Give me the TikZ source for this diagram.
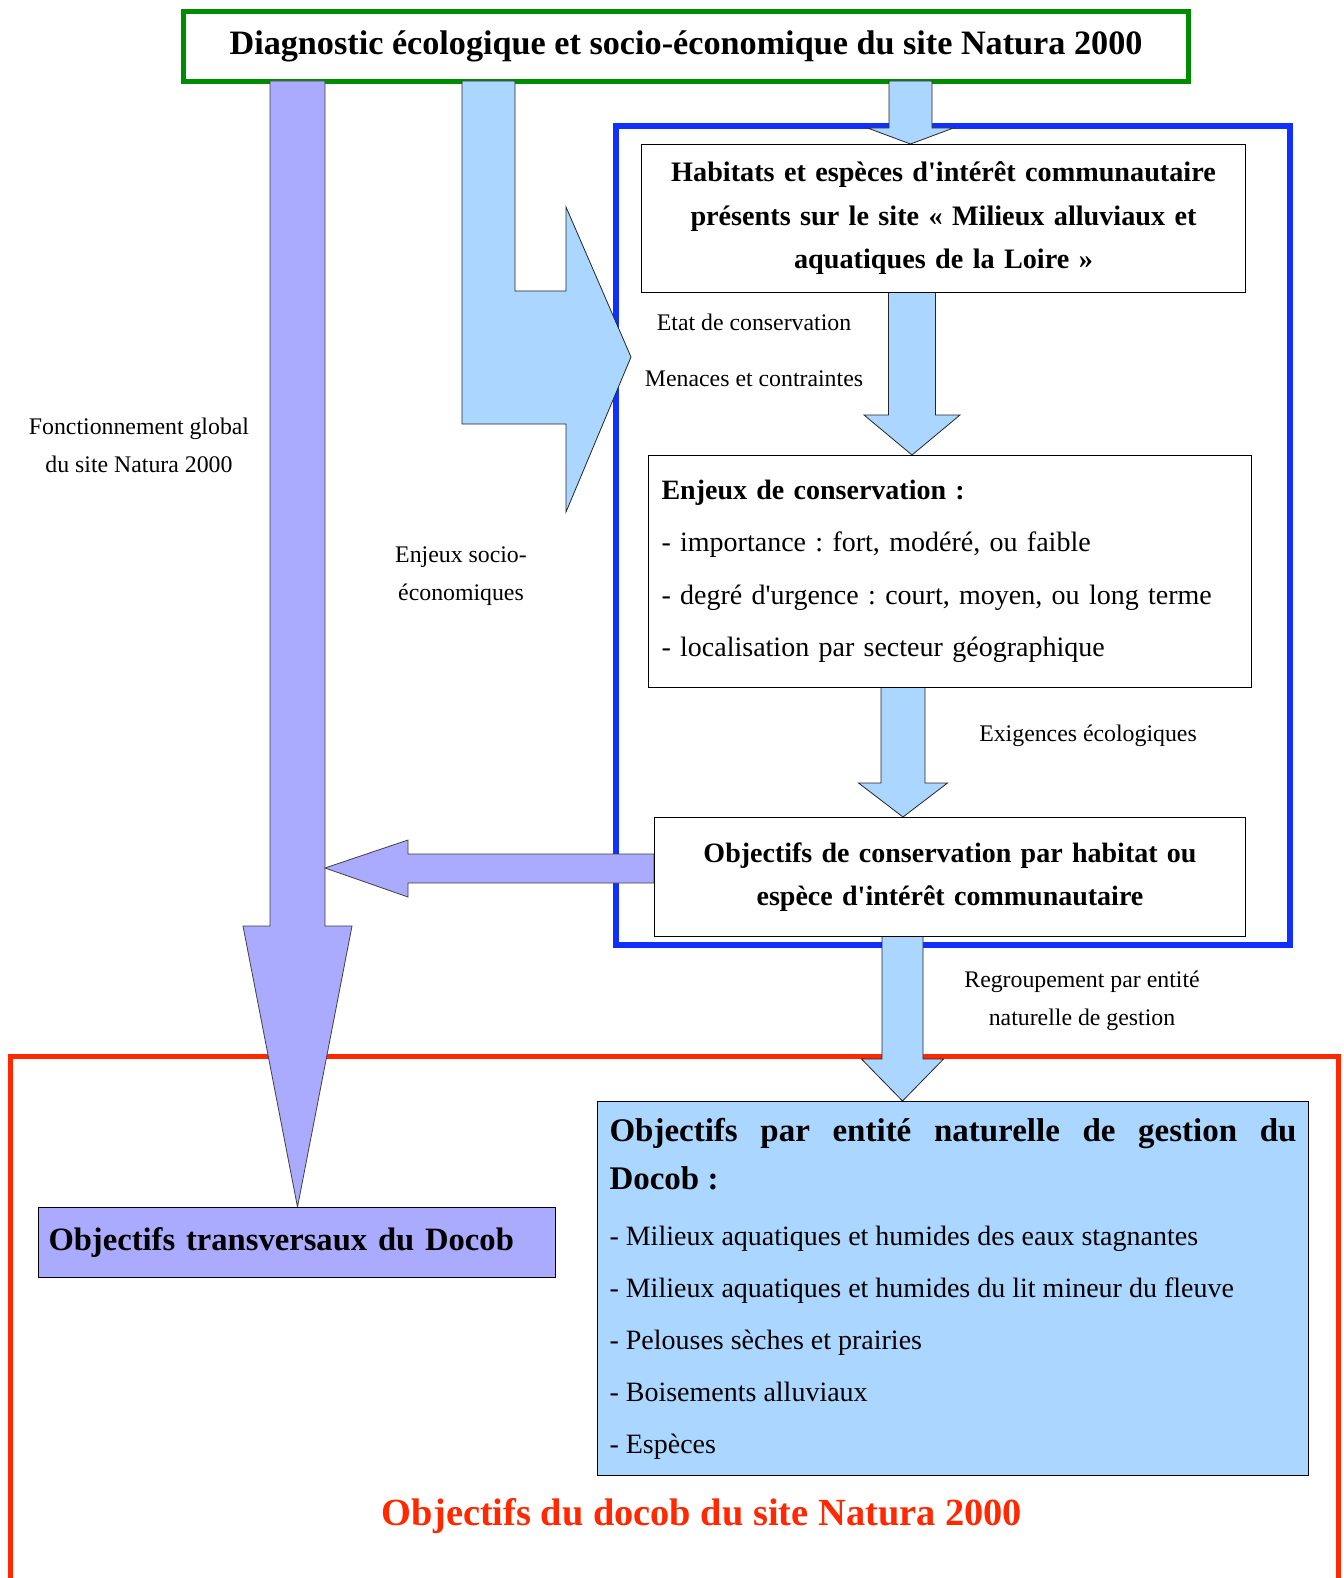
\documentclass[tikz,border=0pt]{standalone}
\usepackage{fontspec}
\setmainfont{Liberation Serif}[Ligatures=TeXOff]
\definecolor{purp}{RGB}{170,170,255}
\definecolor{lblue}{RGB}{170,214,255}
\definecolor{greenc}{RGB}{0,140,0}
\definecolor{bluec}{RGB}{16,48,255}
\definecolor{redc}{RGB}{255,40,0}
\newcommand{\fs}[2]{\fontsize{#1}{#2}\selectfont}
% vertical block arrow: style, xc, ytop, yhead, ytip, half shaft, half head
\newcommand{\vblock}[7]{%
  \path[#1] ({#2-#6},#3) -- ({#2+#6},#3) -- ({#2+#6},#4) -- ({#2+#7},#4) -- (#2,#5) -- ({#2-#7},#4) -- ({#2-#6},#4) -- cycle;}
\frenchspacing
\begin{document}
\begin{tikzpicture}[x=1pt,y=-1pt,
  box/.style={draw=black, line width=1pt, fill=white, inner sep=0pt, anchor=north west},
  lab/.style={align=center, font=\frenchspacing\fs{23.8}{38}},
  purparrow/.style={fill=purp, draw=black!75, line width=0.8pt, line join=miter},
  bluearrow/.style={fill=lblue, draw=black!85, line width=0.8pt, line join=miter}]
\useasboundingbox (0,0) rectangle (1343,1578);
\fill[white] (0,0) rectangle (1343,1578);
% frames
\draw[bluec, line width=6pt] (616,126) rectangle (1290,945);
\draw[redc, line width=5pt] (10,1620) -- (10,1056) -- (1338,1056) -- (1338,1620);
% top box
\node[draw=greenc, line width=5pt, fill=white, inner sep=0pt, anchor=north west,
  minimum width=1005pt, minimum height=70pt, font=\fs{34.2}{38}\bfseries] (diag) at (181,9)
  {Diagnostic écologique et socio-économique du site Natura 2000};
% arrows
\vblock{purparrow}{297.5}{81}{926}{1207}{27.5}{54.5}
\path[bluearrow] (462,81) -- (515,81) -- (515,291) -- (566,291) -- (566,207) -- (631,357)
  -- (566,512) -- (566,424) -- (462,424) -- cycle;
\vblock{bluearrow}{910.5}{81}{128}{144}{21.5}{43}
\vblock{bluearrow}{912}{292}{415}{455}{23.5}{48}
\vblock{bluearrow}{903}{687}{783}{817}{22}{44.5}
\vblock{bluearrow}{902.5}{936}{1059}{1101}{20.5}{41}
\path[purparrow] (654,854) -- (408,854) -- (408,840) -- (325,868) -- (408,897) -- (408,883) -- (654,883) -- cycle;
% boxes
\node[box, minimum width=604pt, minimum height=148pt, text width=590pt, align=center,
  font=\frenchspacing\fs{28.2}{43.5}\bfseries] (hab) at (641,144)
  {Habitats et espèces d'intérêt communautaire\\ présents sur le site « Milieux alluviaux et\\ aquatiques de la Loire »};
\node[box, minimum width=603pt, minimum height=232pt, text width=577pt, align=left,
  font=\frenchspacing\fs{28}{52.5}] (enj) at (648,455)
  {{\bfseries Enjeux de conservation :}\\ - importance : fort, modéré, ou faible\\ - degré d'urgence : court, moyen, ou long terme\\ - localisation par secteur géographique\par\vspace{9pt}};
\node[box, minimum width=591pt, minimum height=119pt, text width=580pt, align=center,
  font=\frenchspacing\fs{28}{42.5}\bfseries] (objc) at (654,817)
  {Objectifs de conservation par habitat ou\\ espèce d'intérêt communautaire};
\node[box, fill=purp, minimum width=517pt, minimum height=70pt, text width=497pt, align=left,
  font=\frenchspacing\fs{32.6}{38}\bfseries] (trans) at (38,1207)
  {Objectifs transversaux du Docob};
\node[box, fill=lblue, minimum width=711pt, minimum height=374pt, text width=687pt, align=justify,
  font=\frenchspacing] (ent) at (597,1101)
  {{\fs{33}{48}\bfseries Objectifs par entité naturelle de gestion du\linebreak Docob :\par}\vspace{4pt}%
   {\fs{28}{52}- Milieux aquatiques et humides des eaux stagnantes\\ - Milieux aquatiques et humides du lit mineur du fleuve\\ - Pelouses sèches et prairies\\ - Boisements alluviaux\\ - Espèces\par}};
% labels
\node[lab] (fonc) at (139,445) {Fonctionnement global\\ du site Natura 2000};
\node[lab] (socio) at (461,576) {Enjeux socio-\\ économiques};
\node[lab] (etat) at (754,322) {Etat de conservation};
\node[lab] (menace) at (754,379) {Menaces et contraintes};
\node[lab] (exig) at (1088,736) {Exigences écologiques};
\node[lab] (regr) at (1082,1001) {Regroupement par entité\\ naturelle de gestion};
\node[font=\fs{38.4}{42}\bfseries, text=redc] (docob) at (702,1516) {Objectifs du docob du site Natura 2000};
\end{tikzpicture}
\end{document}
